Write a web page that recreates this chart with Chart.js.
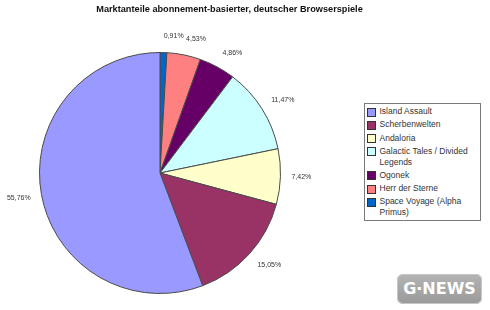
<!DOCTYPE html>
<html>
<head>
<meta charset="utf-8">
<script src="https://cdn.jsdelivr.net/npm/chart.js@4.4.1/dist/chart.umd.min.js"></script>
<style>
  html, body { margin: 0; padding: 0; background: #ffffff; }
  #wrap { position: relative; width: 490px; height: 310px; overflow: hidden; font-family: "Liberation Sans", Arial, sans-serif; }
  #chart { position: absolute; left: 0; top: 0; }
  #title { position: absolute; left: 0; top: 4px; width: 459px; text-align: center; font-weight: bold; font-size: 9.2px; color: #111; line-height: 11px; white-space: nowrap; }
  #legend { position: absolute; left: 364px; top: 103px; width: 115px; height: 114px; border: 1px solid #7a7a7a; background: #fff; box-sizing: content-box; padding-top: 2px; }
  .item { display: flex; align-items: flex-start; margin-left: 2px; margin-bottom: 2.6px; }
  .sw { width: 7px; height: 7px; border: 1px solid #333; margin-top: 1.5px; margin-right: 3.5px; flex: none; }
  .txt { font-size: 8.5px; line-height: 10.7px; color: #333; max-width: 98px; }
  #logo { position: absolute; left: 397px; top: 274px; width: 85px; height: 30px; border-radius: 6px; background: linear-gradient(#b4b4b4, #9a9a9a); box-shadow: inset 0 0 0 1px #c8c8c8; color: #fff; font-family: "DejaVu Sans", sans-serif; font-weight: bold; font-size: 16px; line-height: 30px; text-align: center; }
</style>
</head>
<body>
<div id="wrap">
  <canvas id="chart" width="490" height="310"></canvas>
  <div id="title">Marktanteile abonnement-basierter, deutscher Browserspiele</div>
  <div id="legend"></div>
  <div id="logo">G·NEWS</div>
</div>
<script>
// Games, in legend order
const games = [
  'Island Assault',
  'Scherbenwelten',
  'Andaloria',
  'Galactic Tales / Divided Legends',
  'Ogonek',
  'Herr der Sterne',
  'Space Voyage (Alpha Primus)'
];
// Market share in percent
const shares = [55.76, 15.05, 7.42, 11.47, 4.86, 4.53, 0.91];
// Slice colours
const sliceColors = ['#9999ff', '#993366', '#ffffcc', '#ccffff', '#660066', '#ff8080', '#0066cc'];

// The slices run clockwise from 12 o'clock starting with the last game
const order = games.map((_, i) => i).reverse();

// Percent labels placed just outside each slice
const outsideLabels = {
  id: 'outsideLabels',
  afterDatasetsDraw(chart) {
    const ctx = chart.ctx;
    const meta = chart.getDatasetMeta(0);
    const vals = chart.data.datasets[0].data;
    ctx.save();
    ctx.font = '7px "Liberation Sans", Arial, sans-serif';
    ctx.fillStyle = '#333';
    ctx.textBaseline = 'middle';
    meta.data.forEach((arc, i) => {
      const p = arc.getProps(['x', 'y', 'startAngle', 'endAngle', 'outerRadius'], true);
      const mid = (p.startAngle + p.endAngle) / 2;
      const d = p.outerRadius + 11;
      const ax = p.x + Math.cos(mid) * d;
      const ay = p.y + Math.sin(mid) * d + Math.sin(mid) * 5;
      ctx.textAlign = Math.cos(mid) >= 0 ? 'left' : 'right';
      ctx.fillText(vals[i].toFixed(2).replace('.', ',') + '%', ax, ay);
    });
    ctx.restore();
  }
};

new Chart(document.getElementById('chart'), {
  type: 'pie',
  data: {
    labels: order.map(i => games[i]),
    datasets: [{
      data: order.map(i => shares[i]),
      backgroundColor: order.map(i => sliceColors[i]),
      borderColor: '#4a4a4a',
      borderWidth: 1
    }]
  },
  options: {
    responsive: false,
    animation: false,
    devicePixelRatio: 1,
    layout: { padding: { left: 39, right: 209, top: 52, bottom: 16 } },
    plugins: {
      legend: { display: false },
      tooltip: { enabled: false },
      title: { display: false }
    }
  },
  plugins: [outsideLabels]
});

// Legend box
const legend = document.getElementById('legend');
games.forEach((g, i) => {
  const row = document.createElement('div');
  row.className = 'item';
  const sw = document.createElement('div');
  sw.className = 'sw';
  sw.style.background = sliceColors[i];
  const t = document.createElement('div');
  t.className = 'txt';
  t.textContent = g;
  row.appendChild(sw);
  row.appendChild(t);
  legend.appendChild(row);
});
</script>
</body>
</html>
